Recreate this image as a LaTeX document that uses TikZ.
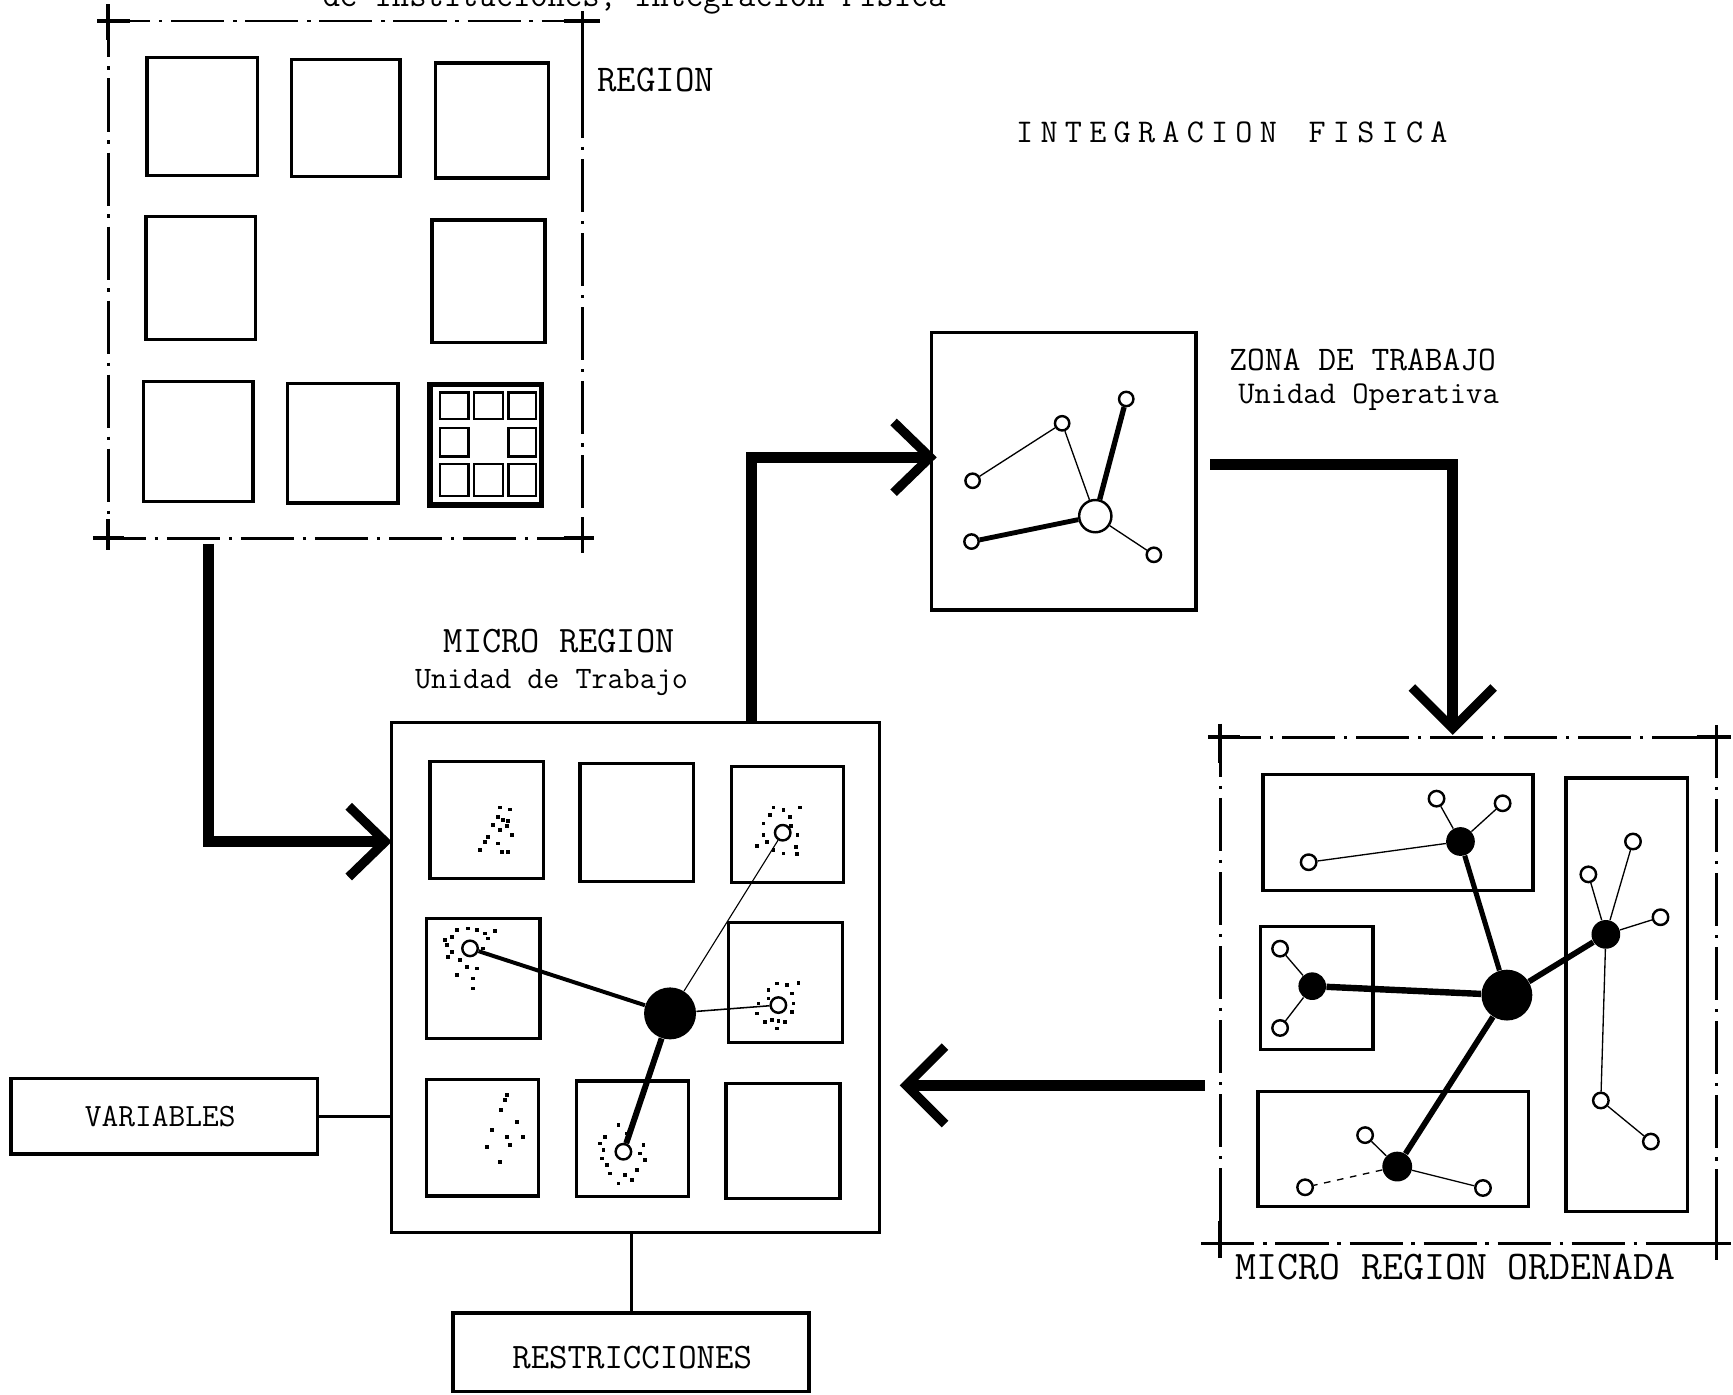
\documentclass[tikz,border=0pt]{standalone}
\usepackage{fontspec}
\usetikzlibrary{calc}
\tikzset{
  box/.style={draw, line width=1.5pt},
  minibox/.style={draw, line width=1.1pt},
  flow/.style={line width=5pt, line join=miter, shorten >=2pt},
  chev/.style={line width=4.2pt, line cap=butt, line join=miter},
  frameline/.style={line width=1.3pt, dash pattern=on 24pt off 4pt on 1.5pt off 4pt},
  crossl/.style={line width=1.7pt},
  hub/.style={circle, fill=black, inner sep=0pt, minimum size=#1},
  opn/.style={circle, draw, fill=white, line width=1.1pt, inner sep=0pt, minimum size=#1},
  speck/.style={rectangle, fill=black, inner sep=0pt, minimum size=1.7pt},
  ghost/.style={inner sep=0pt, outer sep=0pt},
  thinl/.style={line width=0.6pt},
  lbl/.style={inner sep=0pt, anchor=base west},
  lblc/.style={inner sep=0pt, anchor=base},
}
\newcommand\tsize[1]{\ttfamily\fontsize{#1}{#1}\selectfont}
\newcommand\lsp{\hspace{3.3pt}}
\newcommand\chevR[1]{\draw[chev] ($(#1)+(-33,-32)$) -- (#1) -- ($(#1)+(-33,32)$);}
\newcommand\chevL[1]{\draw[chev] ($(#1)+(35,-35)$) -- (#1) -- ($(#1)+(35,35)$);}
\newcommand\chevD[1]{\draw[chev] ($(#1)+(-37,-37)$) -- (#1) -- ($(#1)+(37,-37)$);}
\begin{document}
\begin{tikzpicture}[x=0.5pt,y=-0.5pt]
\useasboundingbox (0,0) rectangle (1568,1262);
\clip (0,0) rectangle (1568,1262);

% ---------------- cut-off heading ----------------
\node[lbl, font=\tsize{15.2pt}] (head) at (232,6) {-\hspace{22pt}de Instituciones; integración Física};

% ---------------- REGION ----------------
\node[ghost, minimum width=214.5pt, minimum height=234pt] (reg) at (312.5,253) {};
\draw[frameline] (88,19) -- (543,19);
\draw[frameline] (98,4) -- (98,498);
\draw[frameline] (84,487) -- (537,487);
\draw[frameline] (527,10) -- (527,500);
\draw[crossl] (88,19) -- (118,19) (98,4) -- (98,36);
\draw[crossl] (510,19) -- (543,19) (527,10) -- (527,92);
\draw[crossl] (84,487) -- (112,487) (98,470) -- (98,498);
\draw[crossl] (510,487) -- (537,487) (527,470) -- (527,500);
\node[lbl, font=\tsize{17.1pt}] (lregion) at (540,83) {REGION};

\draw[box] (133,52) rectangle (233,159);
\draw[box] (264,54) rectangle (362,160);
\draw[box] (394,57) rectangle (496,161);
\draw[box] (132,196) rectangle (231,307);
\draw[box] (391,199) rectangle (493,310);
\draw[box] (130,345) rectangle (229,454);
\draw[box] (260,347) rectangle (360,455);
\draw[line width=2.6pt] (389,348) rectangle (490,457);
\foreach \xa/\xb in {398/424,429/455,460/485}{
  \draw[minibox] (\xa,355) rectangle (\xb,379);
  \draw[minibox] (\xa,420) rectangle (\xb,449);}
\draw[minibox] (398,387) rectangle (424,413);
\draw[minibox] (460,387) rectangle (485,413);

\node[lbl, font=\tsize{15pt}] (lint) at (919,129) {I\lsp N\lsp T\lsp E\lsp G\lsp R\lsp A\lsp C\lsp I\lsp O\lsp N\lsp{} \lsp F\lsp I\lsp S\lsp I\lsp C\lsp A};

% ---------------- MICRO REGION ----------------
\node[box, minimum width=221pt, minimum height=230.5pt] (micro) at (575,884.5) {};
\node[lblc, font=\tsize{16.9pt}] (lmicro) at (506,590.5) {MICRO REGION};
\node[lblc, font=\tsize{14.1pt}] (lmicro2) at (499,623) {Unidad de Trabajo};

\begin{scope}[shift={(334.8,633.4)}, scale=0.3016]
  \draw[box] (180,185) rectangle (520,535);
  \draw[box] (630,190) rectangle (970,545);
  \draw[box] (1085,200) rectangle (1420,548);
  \draw[box] (170,655) rectangle (510,1015);
  \draw[box] (1075,668) rectangle (1418,1028);
  \draw[box] (170,1138) rectangle (505,1488);
  \draw[box] (620,1143) rectangle (955,1490);
  \draw[box] (1068,1150) rectangle (1410,1495);
  \foreach \p in {(390,322),(420,328),(385,350),(400,360),(413,362),(370,375),(390,390),(425,405),(355,410),(385,430),(345,425),(330,450),(395,455),(415,455),(410,378),
                  (410,1185),(392,1230),(440,1265),(365,1290),(412,1310),(460,1310),(420,1335),(350,1340),(390,1385),(405,1200),
                  (1210,322),(1240,330),(1290,322),(1200,345),(1260,350),(1180,370),(1282,405),(1180,405),(1190,425),(1160,437),(1210,450),(1240,460),(1278,440),(1280,462),(1262,378),
                  (260,690),(295,685),(320,690),(345,700),(375,693),(245,710),(230,735),(355,715),(340,745),(235,770),(270,780),(290,800),(320,805),(260,825),(310,835),(310,865),(245,755),(225,720),
                  (1220,850),(1250,855),(1285,848),(1195,870),(1265,880),(1165,910),(1270,910),(1160,940),(1265,935),(1185,965),(1205,960),(1225,962),(1245,965),(1220,985),(1195,895),
                  (745,1275),(770,1300),(705,1310),(690,1330),(820,1335),(700,1350),(825,1380),(695,1375),(710,1395),(800,1410),(720,1420),(745,1450),(785,1440),(765,1425),(810,1360)}
    \node[speck] at \p {};
  \node[hub=23.5pt] (mh) at (900,940) {};
  \node[opn=7pt] (m1) at (300,745) {};
  \node[opn=7pt] (m2) at (1238,398) {};
  \node[opn=7pt] (m3) at (1225,915) {};
  \node[opn=7pt] (m4) at (760,1355) {};
  \draw[line width=1.8pt] (mh) -- (m1);
  \draw[line width=0.5pt] (mh) -- (m2);
  \draw[line width=0.7pt] (mh) -- (m3);
  \draw[line width=2.7pt] (mh) -- (m4);
\end{scope}

% ---------------- VARIABLES / RESTRICCIONES ----------------
\node[box, minimum width=138.5pt, minimum height=34pt] (vars) at (148.5,1010) {};
\node[lblc, font=\tsize{14.7pt}] (lvars) at (145,1019) {VARIABLES};
\node[box, minimum width=161pt, minimum height=35.5pt] (restr) at (571,1223.5) {};
\node[lblc, font=\tsize{16.2pt}] (lrestr) at (572,1238) {RESTRICCIONES};
\draw[line width=1.3pt] (vars.east) -- (vars.east -| micro.west);
\draw[line width=1.3pt] (restr.north) -- (restr.north |- micro.south);

% ---------------- ZONA DE TRABAJO ----------------
\node[box, minimum width=119.5pt, minimum height=125.5pt] (zona) at (962.5,426.5) {};
\node[lbl, font=\tsize{15.6pt}] (lzona) at (1112,335) {ZONA DE TRABAJO};
\node[lbl, font=\tsize{14.3pt}] (lzona2) at (1120,365) {Unidad Operativa};
\node[opn=14.6pt] (z0) at (991,467) {};
\node[opn=6.5pt] (z1) at (961,383) {};
\node[opn=6.5pt] (z2) at (880,435) {};
\node[opn=6.5pt] (z3) at (1019,361) {};
\node[opn=6.5pt] (z4) at (879,490) {};
\node[opn=6.5pt] (z5) at (1044,502) {};
\draw[line width=2.4pt] (z0) -- (z3);
\draw[line width=2.2pt] (z0) -- (z4);
\draw[thinl] (z0) -- (z1);
\draw[thinl] (z1) -- (z2);
\draw[thinl] (z0) -- (z5);

% ---------------- MICRO REGION ORDENADA ----------------
\node[ghost, minimum width=224.5pt, minimum height=229pt] (ord) at (1328.5,896) {};
\draw[frameline] (1093,667) -- (1566,667);
\draw[frameline] (1104,655) -- (1104,1138);
\draw[frameline] (1087,1125) -- (1566,1125);
\draw[frameline] (1553,656) -- (1553,1140);
\draw[crossl] (1093,667) -- (1122,667) (1104,655) -- (1104,690);
\draw[crossl] (1535,667) -- (1566,667) (1553,656) -- (1553,690);
\draw[crossl] (1087,1125) -- (1118,1125) (1104,1105) -- (1104,1138);
\draw[crossl] (1535,1125) -- (1566,1125) (1553,1105) -- (1553,1140);
\node[lblc, font=\tsize{18.4pt}] (lord) at (1317,1158) {MICRO REGION ORDENADA};

\begin{scope}[shift={(1067.7,651.5)}, scale=0.3232]
  \draw[box] (232,152) rectangle (988,478);
  \draw[box] (225,578) rectangle (540,922);
  \draw[box] (218,1040) rectangle (975,1362);
  \draw[box] (1080,162) rectangle (1420,1375);
  \node[hub=23pt] (oh) at (915,770) {};
  \node[hub=13pt] (ot) at (785,340) {};
  \node[hub=12.5pt] (ol) at (370,745) {};
  \node[hub=13pt] (or) at (1192,600) {};
  \node[hub=13.5pt] (ob) at (608,1250) {};
  \foreach \n/\p in {t1/{(360,398)},t2/{(718,220)},t3/{(903,233)},l1/{(280,640)},l2/{(280,862)},
                     r1/{(1143,432)},r2/{(1268,340)},r3/{(1345,552)},r4/{(1178,1065)},r5/{(1318,1180)},
                     b1/{(518,1162)},b2/{(350,1308)},b3/{(848,1310)}}
    \node[opn=7pt] (o\n) at \p {};
  \draw[line width=2.3pt] (oh) -- (ot);
  \draw[line width=2.9pt] (oh) -- (ol);
  \draw[line width=2.6pt] (oh) -- (or);
  \draw[line width=2.6pt] (oh) -- (ob);
  \draw[thinl] (ot) -- (ot1);
  \draw[thinl] (ot) -- (ot2);
  \draw[thinl] (ot) -- (ot3);
  \draw[thinl] (ol) -- (ol1);
  \draw[thinl] (ol) -- (ol2);
  \draw[thinl] (or) -- (or1);
  \draw[thinl] (or) -- (or2);
  \draw[thinl] (or) -- (or3);
  \draw[thinl] (or) -- (or4);
  \draw[thinl] (or4) -- (or5);
  \draw[thinl] (ob) -- (ob1);
  \draw[thinl, dash pattern=on 3pt off 3pt] (ob) -- (ob2);
  \draw[thinl] (ob) -- (ob3);
\end{scope}

% ---------------- flow arrows ----------------
\coordinate (a1s) at (188.5,492);
\coordinate (a1e) at (348.5,761.5);
\draw[flow] (a1s) |- (a1e);
\chevR{a1e}

\coordinate (a2s) at (680,652);
\coordinate (a2e) at (841.5,413.8);
\draw[flow] (a2s) |- (a2e);
\chevR{a2e}

\coordinate (a3s) at (1094.8,420.7);
\coordinate (a3e) at (1314.4,659);
\draw[flow] (a3s) -| (a3e);
\chevD{a3e}

\coordinate (a4s) at (1090,982);
\coordinate (a4e) at (820,982);
\draw[flow] (a4s) -- (a4e);
\chevL{a4e}
\end{tikzpicture}
\end{document}
